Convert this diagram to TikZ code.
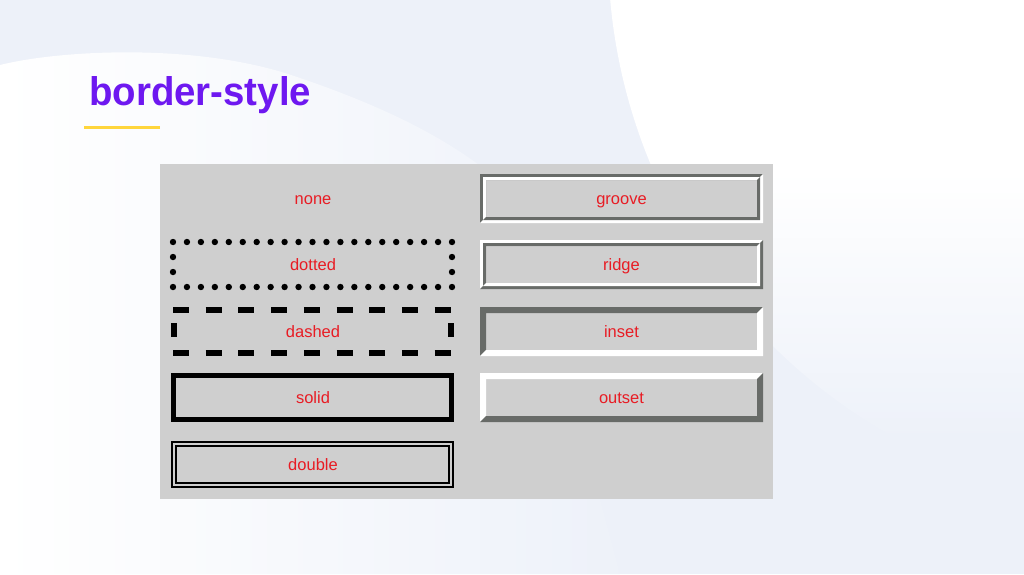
\documentclass[tikz,border=0pt]{standalone}
\usepackage{fontspec}
\setmainfont{Liberation Sans}
\definecolor{bg}{RGB}{237,241,249}
\definecolor{panel}{RGB}{207,207,207}
\definecolor{bevel}{RGB}{104,107,104}
\definecolor{lbl}{RGB}{232,28,36}
\definecolor{ttl}{RGB}{110,24,240}
\definecolor{accent}{RGB}{255,214,60}
\definecolor{ink}{RGB}{0,0,0}
\newcommand\bevelbox[7]{%
  \fill[#6] (#1,#2) -- (#3,#2) -- ({#3-#5},{#2+#5}) -- ({#1+#5},{#2+#5}) -- ({#1+#5},{#4-#5}) -- (#1,#4) -- cycle;
  \fill[#7] (#3,#2) -- (#3,#4) -- (#1,#4) -- ({#1+#5},{#4-#5}) -- ({#3-#5},{#4-#5}) -- ({#3-#5},{#2+#5}) -- cycle;
}
\tikzset{
  lab/.style={anchor=base, inner sep=0pt, text=lbl, font=\fontsize{16.5}{20}\selectfont},
  dotmark/.style={fill=ink},
  dashseg/.style={draw=ink, line width=6pt},
}
\begin{document}
\begin{tikzpicture}[x=1pt,y=-1pt]
\useasboundingbox (0,0) rectangle (1024,574);
% background
\fill[bg] (0,0) rectangle (1024,574);
\begin{scope}
  \clip (0,65) .. controls (60,50) and (200,42) .. (300,78)
        .. controls (400,112) and (470,150) .. (520,200)
        -- (620,574) -- (0,574) -- cycle;
  \shade[left color=white, right color=bg] (0,40) rectangle (640,574);
\end{scope}
\begin{scope}
  \clip (1166,-50) circle (558);
  \fill[white] (560,-10) rectangle (1030,170);
  \shade[top color=white, bottom color=bg] (560,170) rectangle (1030,440);
  \fill[bg] (560,440) rectangle (1030,580);
\end{scope}
% panel
\fill[panel] (160,164) rectangle (773,499);
% title
\node[anchor=base west, inner sep=0pt, text=ttl, xscale=0.96,
      font=\fontsize{40}{48}\selectfont\bfseries] (title) at (89,105.5) {border-style};
\coordinate (ul0) at (84,127);
\coordinate (ul1) at (160,127);
\draw[accent, line width=3pt] (ul0) -- (ul1);
% none
\node[lab] (none) at (313,204) {none};
% dotted
\foreach \i in {0,...,20} {
  \fill[dotmark] ({173+\i*13.95},242) circle (3.2);
  \fill[dotmark] ({173+\i*13.95},287) circle (3.2);
}
\foreach \yy in {257,272} {
  \fill[dotmark] (173,\yy) circle (3.2);
  \fill[dotmark] (452,\yy) circle (3.2);
}
\node[lab] (dotted) at (313,270) {dotted};
% dashed
\foreach \i in {0,...,8} {
  \draw[dashseg] ({173+\i*32.7},310) -- ({189+\i*32.7},310);
  \draw[dashseg] ({173+\i*32.7},353) -- ({189+\i*32.7},353);
}
\draw[dashseg] (174,323) -- (174,337);
\draw[dashseg] (451,323) -- (451,337);
\node[lab] (dashed) at (313,337) {dashed};
% solid
\draw[ink, line width=5pt] (173.5,375.5) rectangle (451.5,419.5);
\node[lab] (solid) at (313,403) {solid};
% double
\draw[ink, line width=2pt] (172,442) rectangle (453,487);
\draw[ink, line width=1.6pt] (175.8,445.8) rectangle (449.2,483.2);
\node[lab] (double) at (313,470) {double};
% groove
\bevelbox{480}{174}{763}{223}{6}{bevel}{white}
\bevelbox{483}{177}{760}{220}{3}{white}{bevel}
\node[lab] (groove) at (621.5,204) {groove};
% ridge
\bevelbox{480}{240}{763}{289}{6}{white}{bevel}
\bevelbox{483}{243}{760}{286}{3}{bevel}{white}
\node[lab] (ridge) at (621.5,270) {ridge};
% inset
\bevelbox{480}{307}{763}{356}{6}{bevel}{white}
\node[lab] (inset) at (621.5,337) {inset};
% outset
\bevelbox{480}{373}{763}{422}{6}{white}{bevel}
\node[lab] (outset) at (621.5,403) {outset};
\end{tikzpicture}
\end{document}
